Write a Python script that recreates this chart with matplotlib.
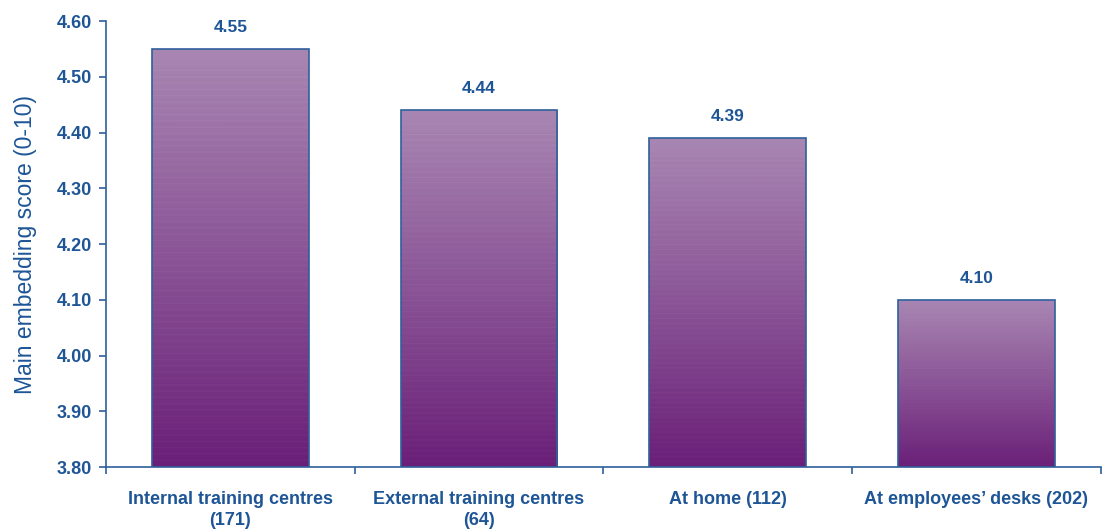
import numpy as np
import matplotlib.pyplot as plt
from matplotlib.colors import LinearSegmentedColormap

categories = ["Internal training centres\n(171)", "External training centres\n(64)",
              "At home (112)", "At employees\u2019 desks (202)"]
scores = [4.55, 4.44, 4.39, 4.10]
yticks = [3.80, 3.90, 4.00, 4.10, 4.20, 4.30, 4.40, 4.50, 4.60]

blue = "#1d5596"
edge = "#2f609c"
plt.rcParams['font.family'] = ['Liberation Sans', 'DejaVu Sans']

fig = plt.figure(figsize=(11.04, 5.29), dpi=100)
ax = fig.add_axes([0.096, 0.117, 0.901, 0.843])

ymin, ymax = 3.80, 4.60
x = np.arange(len(scores))
width = 0.63
bars = ax.bar(x, scores, width=width, bottom=0, color="none", edgecolor=edge,
              linewidth=1.2, zorder=3)

# purple vertical gradient with faint horizontal banding
cmap = LinearSegmentedColormap.from_list("purp", ["#6a1f78", "#8a5496", "#a886b2"])
rows = 400
grad = np.linspace(0, 1, rows)
band = (np.arange(rows) % 6 == 0) * 0.06
img = np.clip(grad + band, 0, 1)[:, None]
for b, v in zip(bars, scores):
    x0 = b.get_x()
    im = ax.imshow(img, cmap=cmap, aspect="auto", origin="lower",
                   extent=[x0, x0 + width, ymin, v], zorder=2, interpolation="bilinear")
    im.set_clip_path(b)
    ax.text(x0 + width / 2, v + 0.025, f"{v:.2f}", ha="center", va="bottom",
            color=blue, fontsize=12.5, fontweight="bold")

ax.set_xlim(-0.5, len(scores) - 0.5)
ax.set_ylim(ymin, ymax)
ax.set_yticks(yticks)
ax.set_yticklabels([f"{t:.2f}" for t in yticks])
ax.set_xticks(x)
ax.set_xticklabels(categories, linespacing=1.3)
ax.set_xticks(np.arange(len(scores) + 1) - 0.5, minor=True)

ax.tick_params(axis="y", colors=edge, labelcolor=blue, length=5, width=1.2,
               labelsize=13, pad=5)
ax.tick_params(axis="x", which="major", length=0, labelcolor=blue, labelsize=13, pad=17)
ax.tick_params(axis="x", which="minor", length=5, width=1.2, colors=edge)
for lab in ax.get_xticklabels() + ax.get_yticklabels():
    lab.set_fontweight("bold")

for s in ["top", "right"]:
    ax.spines[s].set_visible(False)
for s in ["left", "bottom"]:
    ax.spines[s].set_color(edge)
    ax.spines[s].set_linewidth(1.2)

ax.set_ylabel("Main embedding score (0-10)", color=blue, fontsize=16.5, labelpad=14)

fig.savefig("out.png", dpi=100)
